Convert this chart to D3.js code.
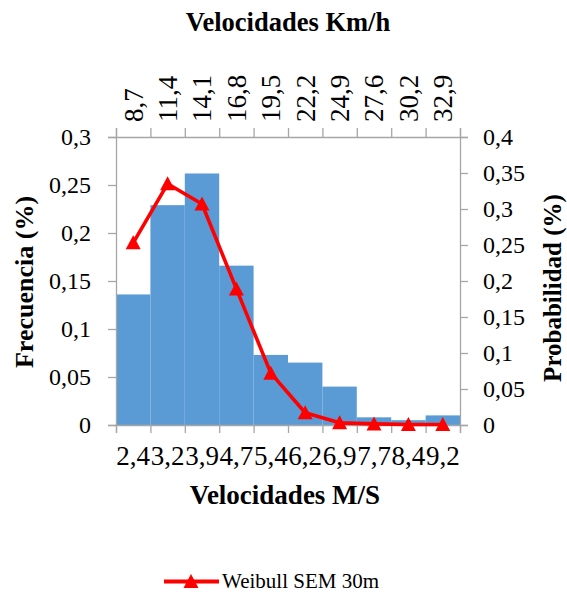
<!DOCTYPE html>
<html>
<head>
<meta charset="utf-8">
<script src="https://cdn.jsdelivr.net/npm/d3@7"></script>
<style>
  html, body { margin: 0; padding: 0; background: #fff; }
  svg { display: block; }
  text { font-family: "Liberation Serif", "Times New Roman", serif; fill: #000; }
</style>
</head>
<body>
<svg id="chart" width="567" height="595"></svg>
<script>
// Wind speed bins in m/s (bottom) and km/h (top)
const velocidadesMs = ["2,4", "3,2", "3,9", "4,7", "5,4", "6,2", "6,9", "7,7", "8,4", "9,2"];
const velocidadesKmh = ["8,7", "11,4", "14,1", "16,8", "19,5", "22,2", "24,9", "27,6", "30,2", "32,9"];

// Observed frequency per bin (left axis)
const frecuencia = [0.136, 0.229, 0.262, 0.166, 0.073, 0.065, 0.040, 0.008, 0.005, 0.010];

// Weibull probability per bin (right axis)
const probabilidad = [0.253, 0.335, 0.307, 0.189, 0.072, 0.017, 0.003, 0.0015, 0.0007, 0.0006];

// Axis tick values
const ticksFrecuencia = [0, 0.05, 0.1, 0.15, 0.2, 0.25, 0.3];
const ticksProbabilidad = [0, 0.05, 0.1, 0.15, 0.2, 0.25, 0.3, 0.35, 0.4];

const serieNombre = "Weibull SEM 30m";

const svg = d3.select("#chart");
const plotLeft = 116, plotRight = 460, plotTop = 137, plotBottom = 425;

const idx = d3.range(velocidadesMs.length);
const x = d3.scaleBand().domain(idx).range([plotLeft, plotRight]).padding(0);
const xEdge = d3.scaleLinear().domain([0, idx.length]).range([plotLeft, plotRight]);
const yL = d3.scaleLinear().domain([0, 0.3]).range([plotBottom, plotTop]);
const yR = d3.scaleLinear().domain([0, 0.4]).range([plotBottom, plotTop]);

const coma = d => String(+d.toFixed(3)).replace(".", ",");
const axisColor = "#a6a6a6";
const serif = "Liberation Serif, Times New Roman, serif";

// Histogram bars
svg.append("g")
  .selectAll("rect")
  .data(frecuencia)
  .join("rect")
  .attr("x", (d, i) => x(i))
  .attr("width", x.bandwidth())
  .attr("y", d => yL(d))
  .attr("height", d => yL(0) - yL(d))
  .attr("fill", "#5b9bd5");

function styleAxis(g) {
  g.selectAll("path, line").attr("stroke", axisColor).attr("stroke-width", 1.3);
  g.selectAll("text").remove();
}

// Left axis
const gL = svg.append("g").attr("transform", `translate(${plotLeft},0)`)
  .call(d3.axisLeft(yL).tickValues(ticksFrecuencia).tickSizeOuter(0).tickSize(8).tickPadding(17).tickFormat(coma));
gL.selectAll("path, line").attr("stroke", axisColor).attr("stroke-width", 1.3);
gL.selectAll("text").attr("font-size", 24).attr("font-family", serif).attr("fill", "#000");

// Right axis
const gR = svg.append("g").attr("transform", `translate(${plotRight},0)`)
  .call(d3.axisRight(yR).tickValues(ticksProbabilidad).tickSizeOuter(0).tickSize(8).tickPadding(15).tickFormat(coma));
gR.selectAll("path, line").attr("stroke", axisColor).attr("stroke-width", 1.3);
gR.selectAll("text").attr("font-size", 24).attr("font-family", serif).attr("fill", "#000");

// Bottom axis: ticks at bin edges, labels at bin centres
svg.append("g").attr("transform", `translate(0,${plotBottom})`)
  .call(d3.axisBottom(xEdge).tickValues(d3.range(idx.length + 1)).tickSizeOuter(0).tickSize(8))
  .call(styleAxis);
svg.append("g")
  .selectAll("text")
  .data(velocidadesMs)
  .join("text")
  .attr("x", (d, i) => x(i) + x.bandwidth() / 2)
  .attr("y", 465)
  .attr("text-anchor", "middle")
  .attr("font-size", 27)
  .text(d => d);

// Top axis: km/h labels, rotated
svg.append("g").attr("transform", `translate(0,${plotTop})`)
  .call(d3.axisTop(xEdge).tickValues(d3.range(idx.length + 1)).tickSizeOuter(0).tickSize(9))
  .call(styleAxis);
svg.append("g")
  .selectAll("text")
  .data(velocidadesKmh)
  .join("text")
  .attr("transform", (d, i) => `translate(${x(i) + x.bandwidth() / 2},122) rotate(-90)`)
  .attr("dy", "0.35em")
  .attr("text-anchor", "start")
  .attr("font-size", 27)
  .text(d => d);

// Weibull line with triangle markers
const cx = i => x(i) + x.bandwidth() / 2;
const line = d3.line().x((d, i) => cx(i)).y(d => yR(d));
svg.append("path")
  .datum(probabilidad)
  .attr("d", line)
  .attr("fill", "none")
  .attr("stroke", "#ff0000")
  .attr("stroke-width", 3.6)
  .attr("stroke-linejoin", "round");

const tri = "M0,-7.5L7.5,6.5L-7.5,6.5Z";
svg.append("g")
  .selectAll("path")
  .data(probabilidad)
  .join("path")
  .attr("transform", (d, i) => `translate(${cx(i)},${yR(d)})`)
  .attr("d", tri)
  .attr("fill", "#ff0000");

// Titles
svg.append("text")
  .attr("x", (plotLeft + plotRight) / 2).attr("y", 31)
  .attr("text-anchor", "middle").attr("font-size", 26.5).attr("font-weight", "bold")
  .text("Velocidades Km/h");

svg.append("text")
  .attr("x", 285).attr("y", 504)
  .attr("text-anchor", "middle").attr("font-size", 27).attr("font-weight", "bold")
  .text("Velocidades M/S");

svg.append("text")
  .attr("transform", "translate(33,282) rotate(-90)")
  .attr("text-anchor", "middle").attr("font-size", 26).attr("font-weight", "bold")
  .text("Frecuencia (%)");

svg.append("text")
  .attr("transform", "translate(561,288) rotate(-90)")
  .attr("text-anchor", "middle").attr("font-size", 25).attr("font-weight", "bold")
  .text("Probabilidad (%)");

// Legend
const lg = svg.append("g");
lg.append("line")
  .attr("x1", 164).attr("x2", 219).attr("y1", 581.5).attr("y2", 581.5)
  .attr("stroke", "#ff0000").attr("stroke-width", 4);
lg.append("path")
  .attr("transform", "translate(191,581.5)")
  .attr("d", tri)
  .attr("fill", "#ff0000");
lg.append("text")
  .attr("x", 222).attr("y", 588)
  .attr("font-size", 21)
  .text(serieNombre);
</script>
</body>
</html>
